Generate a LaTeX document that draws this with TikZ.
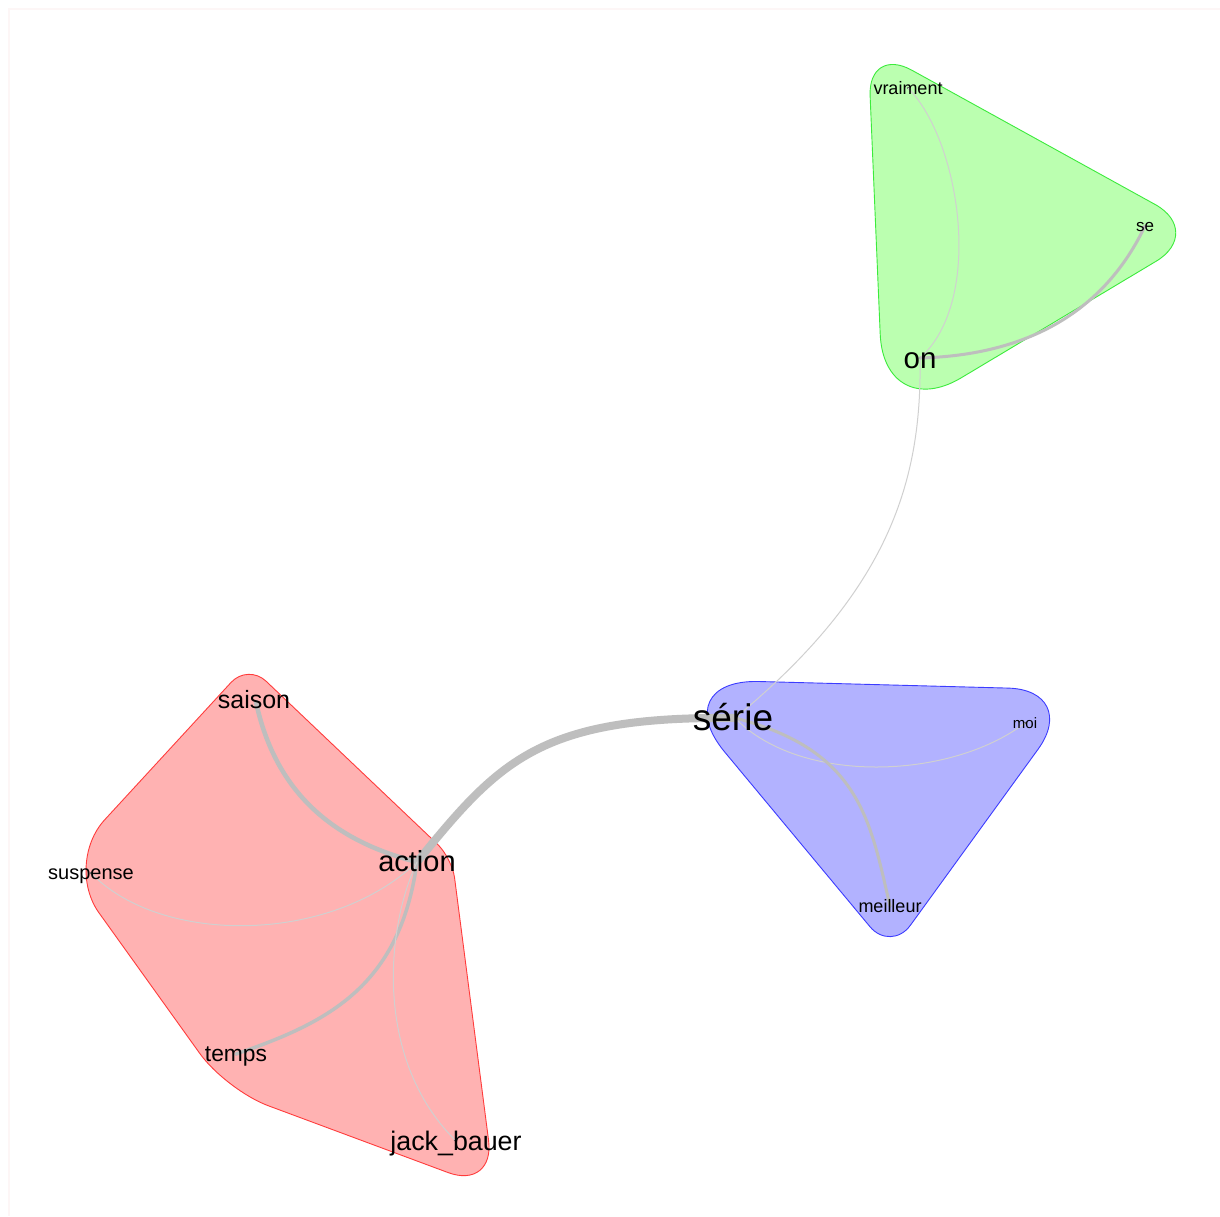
\documentclass[tikz,border=0pt]{standalone}
\usepackage{fontspec}
\setmainfont{Liberation Sans}
\usetikzlibrary{calc}
\definecolor{hullred}{RGB}{255,178,178}
\definecolor{hullgreen}{RGB}{187,255,176}
\definecolor{hullblue}{RGB}{178,178,255}
\definecolor{bordred}{RGB}{255,60,60}
\definecolor{bordgreen}{RGB}{60,235,60}
\definecolor{bordblue}{RGB}{60,60,255}
\definecolor{edgedark}{RGB}{190,190,190}
\definecolor{edgelight}{RGB}{208,208,208}
\definecolor{framecol}{RGB}{253,246,246}
\newcommand\hullcorner[5]{-- ($(#2)!#4!(#1)$) .. controls ($(#2)!#5!(#1)$) and ($(#2)!#5!(#3)$) .. ($(#2)!#4!(#3)$)}
\tikzset{
  vdot/.style={circle,fill=black!70,inner sep=0pt,minimum size=2.5pt},
  lbl/.style={inner sep=0pt,anchor=base,font=\fontsize{#1}{#1}\selectfont,yshift={-0.34*#1},text=black},
  ethick/.style={draw=edgedark,line cap=round},
  ethin/.style={draw=edgelight,line width=1pt,line cap=round},
}
\begin{document}
\begin{tikzpicture}[x=1pt,y=-1pt]
\useasboundingbox (0,0) rectangle (1220,1216);
\fill[white] (0,0) rectangle (1220,1216);
% faint frame
\draw[framecol,line width=2pt] (9,1216) -- (9,9) -- (1220,9);

% hull vertices
\coordinate (r1) at (248,664);
\coordinate (r2) at (452,858);
\coordinate (r3) at (495,1190);
\coordinate (r4) at (226,1090);
\coordinate (r5) at (64,864);
\coordinate (g1) at (868,46);
\coordinate (g2) at (1205,232);
\coordinate (g3) at (884,424);
\coordinate (b1) at (664,679);
\coordinate (b2) at (1081,690);
\coordinate (b3) at (891,952);

% red hull
\filldraw[fill=hullred,draw=bordred,line width=0.9pt]
  ($(r1)!25pt!(r2)$)
  \hullcorner{r1}{r2}{r3}{20pt}{9pt}
  \hullcorner{r2}{r3}{r4}{50pt}{22pt}
  \hullcorner{r3}{r4}{r5}{45pt}{20pt}
  \hullcorner{r4}{r5}{r1}{60pt}{27pt}
  \hullcorner{r5}{r1}{r2}{25pt}{11pt}
  -- cycle;
% green hull
\filldraw[fill=hullgreen,draw=bordgreen,line width=0.9pt]
  ($(g1)!50pt!(g2)$)
  \hullcorner{g1}{g2}{g3}{57pt}{26pt}
  \hullcorner{g2}{g3}{g1}{90pt}{40pt}
  \hullcorner{g3}{g1}{g2}{50pt}{22pt}
  -- cycle;
% blue hull
\filldraw[fill=hullblue,draw=bordblue,line width=0.9pt]
  ($(b1)!95pt!(b2)$)
  \hullcorner{b1}{b2}{b3}{73pt}{33pt}
  \hullcorner{b2}{b3}{b1}{33pt}{15pt}
  \hullcorner{b3}{b1}{b2}{95pt}{43pt}
  -- cycle;

% vertices
\node[vdot] (vraiment) at (908,88) {};
\node[vdot] (se) at (1145,226) {};
\node[vdot] (on) at (920,358) {};
\node[vdot] (serie) at (735,718) {};
\node[vdot] (moi) at (1025,723) {};
\node[vdot] (meilleur) at (890,906) {};
\node[vdot] (saison) at (256,702) {};
\node[vdot] (action) at (417,862) {};
\node[vdot] (suspense) at (91,873) {};
\node[vdot] (temps) at (236,1054) {};
\node[vdot] (jack) at (455,1140) {};

% edges
\draw[ethick,line width=8pt] (action.center) .. controls (500,760) and (540,716) .. (serie.center);
\draw[ethick,line width=4.5pt] (saison.center) .. controls (275,790) and (330,840) .. (action.center);
\draw[ethin] (suspense.center) .. controls (160,945) and (330,945) .. (action.center);
\draw[ethick,line width=3.5pt] (temps.center) .. controls (330,1022) and (400,985) .. (action.center);
\draw[ethin] (action.center) .. controls (385,930) and (375,1060) .. (jack.center);
\draw[ethin] (serie.center) .. controls (890,590) and (922,480) .. (on.center);
\draw[ethin] (vraiment.center) .. controls (960,140) and (985,300) .. (on.center);
\draw[ethick,line width=3pt] (se.center) .. controls (1105,310) and (1030,355) .. (on.center);
\draw[ethin] (serie.center) .. controls (800,785) and (950,780) .. (moi.center);
\draw[ethick,line width=3pt] (serie.center) .. controls (860,750) and (870,820) .. (meilleur.center);

% labels
\node[lbl=18] (vraiment-l) at (vraiment) {vraiment};
\node[lbl=17] (se-l) at (se) {se};
\node[lbl=29.5] (on-l) at (on) {on};
\node[lbl=37] (serie-l) at (733,718) {série};
\node[lbl=15] (moi-l) at (moi) {moi};
\node[lbl=18] (meilleur-l) at (meilleur) {meilleur};
\node[lbl=25] (saison-l) at (254,700) {saison};
\node[lbl=29] (action-l) at (action) {action};
\node[lbl=20] (suspense-l) at (suspense) {suspense};
\node[lbl=22.8] (temps-l) at (temps) {temps};
\node[lbl=26.8] (jack-l) at (456,1141) {jack\_bauer};
\end{tikzpicture}
\end{document}
